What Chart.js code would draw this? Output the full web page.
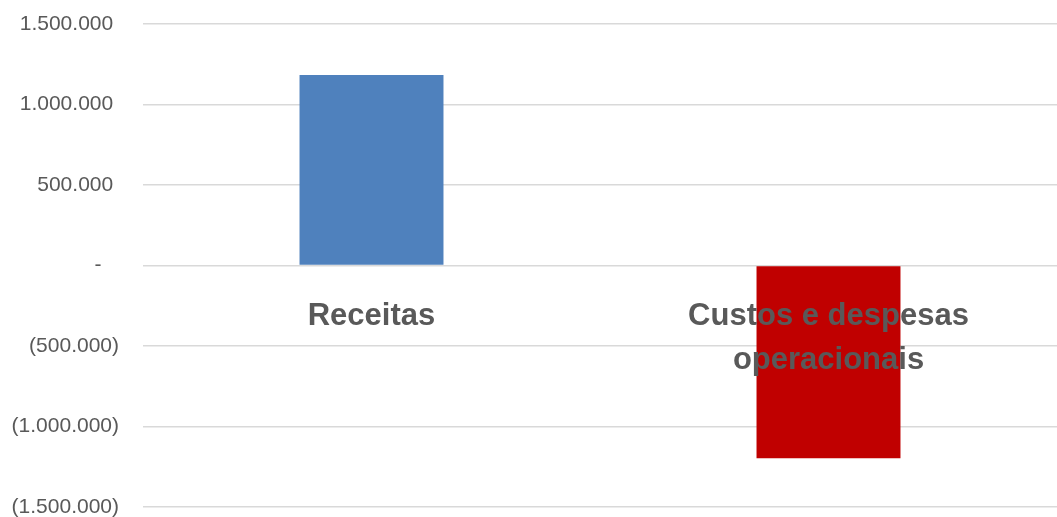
<!DOCTYPE html>
<html>
<head>
<meta charset="utf-8">
<script src="https://cdn.jsdelivr.net/npm/chart.js@4/dist/chart.umd.min.js"></script>
<style>
  html, body { margin: 0; padding: 0; background: #fff; }
  #wrap { width: 1057px; height: 517px; overflow: hidden; }
</style>
</head>
<body>
<div id="wrap"><canvas id="c"></canvas></div>
<script>
const categories = ['Receitas', ['Custos e despesas', 'operacionais']];
const values = [1183000, -1197000];
const barColors = ['#4f81bd', '#c00000'];
const tickValues = [1500000, 1000000, 500000, 0, -500000, -1000000, -1500000];
const tickLabels = ['1.500.000 ', '1.000.000 ', '500.000 ', '-   ', '(500.000)', '(1.000.000)', '(1.500.000)'];

new Chart(document.getElementById('c'), {
  type: 'bar',
  data: {
    labels: categories,
    datasets: [{
      data: values,
      backgroundColor: barColors,
      borderWidth: 0,
      barPercentage: 0.315,
      categoryPercentage: 1
    }]
  },
  options: {
    responsive: true,
    maintainAspectRatio: false,
    animation: false,
    layout: { padding: { left: 0, top: 0, bottom: 0, right: -6 } },
    plugins: { legend: { display: false }, tooltip: { enabled: false } },
    scales: {
      x: {
        position: { y: 0 },
        afterFit: s => { s.height = 0; s.paddingLeft = 0; s.paddingRight = 0; },
        grid: { display: false },
        border: { display: false },
        ticks: {
          z: 1,
          color: '#595959',
          font: { family: 'Liberation Sans', size: 31, weight: 'bold', lineHeight: 1.45 },
          padding: 20,
          maxRotation: 0,
          autoSkip: false
        }
      },
      y: {
        min: -1500000,
        max: 1500000,
        afterFit: s => { s.width = 143; s.paddingTop = 24; s.paddingBottom = 10; },
        grid: { color: '#d9d9d9', lineWidth: 1.5, drawTicks: false },
        border: { display: false },
        afterBuildTicks: s => { s.ticks = tickValues.map(v => ({ value: v })); },
        ticks: {
          color: '#595959',
          font: { family: 'Liberation Sans', size: 21 },
          padding: 24,
          callback: v => {
            const i = tickValues.indexOf(v);
            return i >= 0 ? tickLabels[i] : '';
          }
        }
      }
    }
  }
});
</script>
</body>
</html>
